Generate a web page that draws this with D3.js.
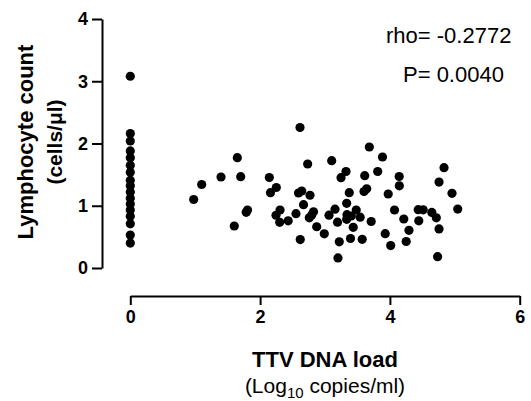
<!DOCTYPE html>
<html>
<head>
<meta charset="utf-8">
<script src="https://cdnjs.cloudflare.com/ajax/libs/d3/7.8.5/d3.min.js"></script>
<style>
  body { margin: 0; background: #fff; }
  text { font-family: Arial, "Liberation Sans", sans-serif; }
</style>
</head>
<body>
<div id="chart"></div>
<script>
// TTV DNA load (log10 copies/ml) vs lymphocyte count
const ttvLoad = [
  0, 0, 0, 0, 0, 0, 0, 0, 0, 0, 0, 0, 0, 0, 0, 0, 0,
  2.615, 1.649, 2.733, 3.103, 1.398, 1.701, 1.100, 0.977, 2.142, 2.250,
  2.160, 2.592, 2.641, 2.769, 2.669, 3.324, 3.247, 3.374, 3.334, 1.806,
  1.786, 1.602, 2.307, 2.245, 2.302, 2.433, 2.553, 2.823, 2.795, 2.758,
  2.872, 2.989, 2.619, 3.062, 3.154, 3.193, 3.220, 3.200, 3.683, 3.886,
  3.612, 3.812, 4.143, 4.145, 4.834, 4.757, 4.957, 5.045, 3.601, 3.643,
  3.974, 3.481, 3.339, 3.404, 3.334, 3.542, 3.435, 3.712, 4.071, 4.214,
  4.294, 4.436, 4.513, 4.646, 4.715, 4.445, 4.757, 3.928, 4.251, 4.012,
  3.393, 3.573, 4.735
];
const lymphocytes = [
  3.08, 2.16, 2.04, 1.88, 1.77, 1.65, 1.54, 1.41, 1.32, 1.22, 1.12, 1.03, 0.93, 0.83, 0.71, 0.53, 0.40,
  2.257, 1.772, 1.671, 1.724, 1.462, 1.467, 1.341, 1.100, 1.454, 1.293,
  1.210, 1.205, 1.237, 1.169, 1.017, 1.550, 1.451, 1.210, 1.039, 0.932,
  0.895, 0.675, 0.932, 0.847, 0.734, 0.758, 0.872, 0.903, 0.851, 0.806,
  0.663, 0.549, 0.456, 0.848, 0.945, 0.736, 0.421, 0.162, 1.944, 1.783,
  1.483, 1.550, 1.470, 1.320, 1.611, 1.380, 1.200, 0.946, 1.229, 1.272,
  1.189, 0.932, 0.856, 0.835, 0.782, 0.816, 0.654, 0.747, 0.932, 0.787,
  0.606, 0.937, 0.935, 0.892, 0.806, 0.758, 0.627, 0.551, 0.426, 0.361,
  0.474, 0.461, 0.182
];
const xTicks = [0, 2, 4, 6];
const yTicks = [0, 1, 2, 3, 4];
const statLines = ["rho= -0.2772", "P= 0.0040"];

const width = 531, height = 401;

const svg = d3.select("#chart")
  .append("svg")
  .attr("width", width)
  .attr("height", height);

const xScale = d3.scaleLinear().domain([0, 6]).range([130.3, 519.7]);
const yScale = d3.scaleLinear().domain([0, 4]).range([268, 19]);

// y axis
const yAxis = svg.append("g")
  .attr("transform", "translate(102, 0)")
  .call(d3.axisLeft(yScale).tickValues(yTicks).tickFormat(d3.format("d"))
    .tickSize(10).tickSizeOuter(0).tickPadding(4));

// x axis (offset below the plot, GraphPad style)
const xAxis = svg.append("g")
  .attr("transform", "translate(0, 296)")
  .call(d3.axisBottom(xScale).tickValues(xTicks).tickFormat(d3.format("d"))
    .tickSize(9).tickSizeOuter(0).tickPadding(5));

[yAxis, xAxis].forEach(g => {
  g.select(".domain").attr("stroke", "#000").attr("stroke-width", 2);
  g.selectAll(".tick line").attr("stroke", "#000").attr("stroke-width", 2);
  g.selectAll(".tick text")
    .attr("fill", "#000")
    .style("font-size", "18px")
    .style("font-weight", "bold")
    .style("font-family", "Arial, 'Liberation Sans', sans-serif");
});

// points
const points = ttvLoad.map((x, i) => ({ x: x, y: lymphocytes[i] }));
svg.append("g")
  .selectAll("circle")
  .data(points)
  .join("circle")
  .attr("cx", d => xScale(d.x))
  .attr("cy", d => yScale(d.y))
  .attr("r", 4.6)
  .attr("fill", "#000");

// axis titles
svg.append("text")
  .attr("x", 325)
  .attr("y", 367)
  .attr("text-anchor", "middle")
  .style("font-size", "22px")
  .style("font-weight", "bold")
  .text("TTV DNA load");

const xSub = svg.append("text")
  .attr("x", 325)
  .attr("y", 393)
  .attr("text-anchor", "middle")
  .style("font-size", "21px");
xSub.append("tspan").text("(Log");
xSub.append("tspan").attr("dy", 5).style("font-size", "15px").text("10");
xSub.append("tspan").attr("dy", -5).text(" copies/ml)");

svg.append("text")
  .attr("transform", "translate(33, 142) rotate(-90)")
  .attr("text-anchor", "middle")
  .style("font-size", "22px")
  .style("font-weight", "bold")
  .text("Lymphocyte count");

svg.append("text")
  .attr("transform", "translate(62, 142) rotate(-90)")
  .attr("text-anchor", "middle")
  .style("font-size", "21px")
  .style("font-weight", "bold")
  .text("(cells/\u03bcl)");

// statistics
svg.append("text")
  .attr("x", 386)
  .attr("y", 43)
  .style("font-size", "22px")
  .text(statLines[0]);

svg.append("text")
  .attr("x", 403)
  .attr("y", 81.5)
  .style("font-size", "22px")
  .text(statLines[1]);
</script>
</body>
</html>
